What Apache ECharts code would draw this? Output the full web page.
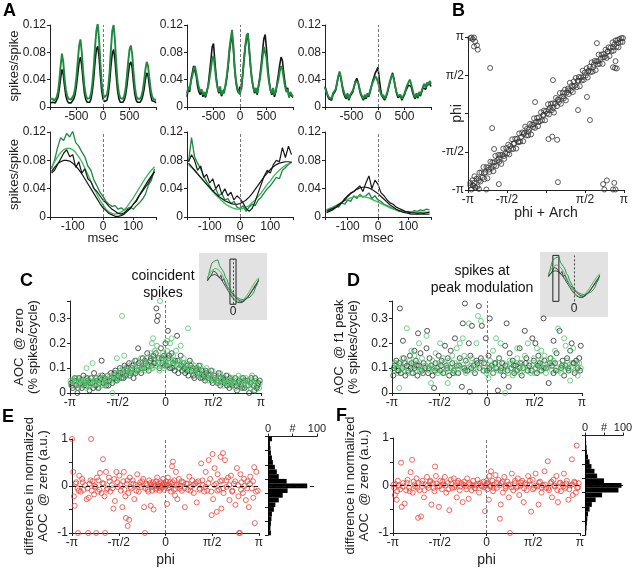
<!DOCTYPE html>
<html><head><meta charset="utf-8">
<script src="https://cdn.jsdelivr.net/npm/echarts@6/dist/echarts.min.js"></script>
<style>html,body{margin:0;padding:0;background:#fff}#c{width:640px;height:573px}</style>
</head><body><div id="c"></div>
<script>
// ---------- DATA ----------
const tTop=[-1000,-975,-950,-925,-900,-875,-850,-825,-800,-775,-750,-725,-700,-675,-650,-625,-600,-575,-550,-525,-500,-475,-450,-425,-400,-375,-350,-325,-300,-275,-250,-225,-200,-175,-150,-125,-100,-75,-50,-25,0,25,50,75,100,125,150,175,200,225,250,275,300,325,350,375,400,425,450,475,500,525,550,575,600,625,650,675,700,725,750,775,800,825,850,875,900,925,950,975,1000];
const topGreen1=[0.012,0.010,0.012,0.009,0.011,0.014,0.022,0.038,0.060,0.078,0.066,0.042,0.025,0.016,0.012,0.010,0.011,0.013,0.018,0.028,0.045,0.068,0.090,0.099,0.080,0.052,0.030,0.018,0.012,0.010,0.013,0.020,0.035,0.058,0.088,0.112,0.122,0.100,0.065,0.036,0.020,0.014,0.013,0.018,0.030,0.052,0.085,0.112,0.120,0.098,0.064,0.036,0.020,0.013,0.011,0.012,0.016,0.026,0.044,0.066,0.084,0.090,0.078,0.052,0.030,0.017,0.012,0.010,0.012,0.016,0.024,0.038,0.055,0.066,0.060,0.042,0.026,0.016,0.012,0.014,0.010];
const topBlack1=[0.006,0.005,0.007,0.005,0.006,0.008,0.014,0.026,0.042,0.055,0.048,0.030,0.016,0.009,0.006,0.005,0.006,0.008,0.012,0.019,0.032,0.049,0.066,0.073,0.060,0.038,0.020,0.011,0.007,0.005,0.007,0.012,0.024,0.042,0.066,0.084,0.089,0.074,0.047,0.024,0.012,0.008,0.007,0.010,0.019,0.036,0.060,0.078,0.084,0.070,0.045,0.024,0.012,0.007,0.006,0.007,0.010,0.017,0.030,0.047,0.062,0.066,0.057,0.036,0.019,0.010,0.007,0.005,0.007,0.010,0.016,0.026,0.040,0.050,0.046,0.031,0.017,0.009,0.007,0.008,0.006];
const topGreen2=[0.020,0.030,0.025,0.038,0.045,0.055,0.060,0.050,0.038,0.028,0.022,0.026,0.018,0.022,0.016,0.024,0.030,0.042,0.055,0.070,0.075,0.058,0.040,0.028,0.022,0.030,0.018,0.024,0.020,0.032,0.045,0.062,0.085,0.100,0.113,0.090,0.058,0.038,0.028,0.022,0.018,0.030,0.048,0.070,0.090,0.105,0.108,0.085,0.060,0.040,0.030,0.022,0.028,0.020,0.030,0.040,0.055,0.072,0.088,0.090,0.072,0.050,0.035,0.025,0.020,0.028,0.018,0.024,0.032,0.040,0.052,0.060,0.055,0.042,0.030,0.022,0.026,0.015,0.022,0.018,0.016];
const topBlack2=[0.015,0.028,0.022,0.040,0.050,0.060,0.058,0.045,0.030,0.022,0.018,0.024,0.015,0.020,0.014,0.022,0.032,0.050,0.068,0.088,0.093,0.068,0.045,0.030,0.020,0.026,0.016,0.020,0.018,0.030,0.042,0.058,0.080,0.095,0.105,0.085,0.055,0.035,0.025,0.020,0.030,0.025,0.045,0.068,0.088,0.100,0.104,0.082,0.058,0.040,0.028,0.020,0.026,0.018,0.032,0.045,0.062,0.082,0.100,0.106,0.085,0.058,0.038,0.025,0.018,0.025,0.015,0.022,0.035,0.048,0.062,0.073,0.068,0.050,0.035,0.024,0.028,0.014,0.020,0.016,0.014];
const topGreen3=[0.028,0.022,0.018,0.014,0.016,0.012,0.020,0.018,0.026,0.035,0.045,0.052,0.044,0.032,0.024,0.018,0.014,0.020,0.012,0.018,0.016,0.024,0.030,0.038,0.040,0.036,0.028,0.020,0.016,0.012,0.018,0.014,0.020,0.016,0.024,0.030,0.036,0.040,0.045,0.042,0.036,0.028,0.020,0.015,0.018,0.012,0.016,0.022,0.030,0.038,0.044,0.048,0.040,0.030,0.022,0.016,0.014,0.018,0.012,0.016,0.020,0.026,0.032,0.036,0.040,0.034,0.026,0.018,0.014,0.020,0.015,0.022,0.018,0.024,0.030,0.034,0.028,0.036,0.032,0.038,0.034];
const topBlack3=[0.030,0.024,0.016,0.012,0.014,0.010,0.018,0.016,0.024,0.034,0.044,0.050,0.042,0.030,0.020,0.015,0.012,0.018,0.010,0.016,0.015,0.022,0.030,0.038,0.042,0.036,0.026,0.018,0.014,0.010,0.015,0.012,0.018,0.015,0.022,0.030,0.038,0.044,0.050,0.052,0.058,0.040,0.026,0.016,0.015,0.010,0.014,0.020,0.028,0.036,0.044,0.050,0.042,0.030,0.020,0.014,0.012,0.016,0.010,0.014,0.018,0.024,0.028,0.032,0.034,0.030,0.022,0.016,0.012,0.018,0.013,0.020,0.016,0.022,0.028,0.030,0.026,0.032,0.030,0.034,0.030];

const tBot=[-170,-160,-150,-140,-130,-120,-110,-100,-90,-80,-70,-60,-50,-40,-30,-20,-10,0,10,20,30,40,50,60,70,80,90,100,110,120,130,140,150,160,170];
const botGreen1=[0.068,0.080,0.098,0.112,0.108,0.118,0.113,0.121,0.105,0.100,0.092,0.085,0.072,0.066,0.052,0.044,0.035,0.029,0.022,0.018,0.015,0.016,0.011,0.013,0.010,0.012,0.014,0.011,0.016,0.020,0.025,0.032,0.045,0.052,0.068];
const botGreenFit1=[0.070,0.078,0.085,0.091,0.095,0.097,0.097,0.095,0.091,0.085,0.078,0.069,0.060,0.050,0.041,0.032,0.024,0.017,0.011,0.007,0.005,0.004,0.005,0.007,0.010,0.015,0.021,0.027,0.034,0.041,0.048,0.055,0.061,0.066,0.071];
const botBlack1=[0.062,0.066,0.074,0.082,0.090,0.095,0.085,0.088,0.070,0.078,0.062,0.068,0.054,0.050,0.040,0.036,0.030,0.024,0.020,0.015,0.011,0.008,0.005,0.004,0.006,0.010,0.012,0.018,0.022,0.030,0.036,0.042,0.048,0.056,0.064];
const botBlackFit1=[0.064,0.070,0.075,0.078,0.080,0.080,0.079,0.076,0.072,0.067,0.061,0.054,0.047,0.040,0.033,0.026,0.019,0.013,0.009,0.005,0.003,0.001,0.001,0.002,0.004,0.008,0.012,0.018,0.024,0.031,0.038,0.045,0.052,0.058,0.064];
const botGreen2=[0.078,0.112,0.085,0.076,0.068,0.058,0.050,0.044,0.036,0.040,0.030,0.033,0.024,0.026,0.019,0.022,0.014,0.012,0.016,0.008,0.014,0.018,0.016,0.024,0.028,0.034,0.040,0.044,0.050,0.056,0.054,0.066,0.070,0.074,0.078];
const botGreenFit2=[0.074,0.070,0.066,0.061,0.056,0.051,0.046,0.041,0.036,0.031,0.027,0.023,0.019,0.016,0.014,0.012,0.011,0.011,0.012,0.014,0.016,0.020,0.024,0.029,0.034,0.040,0.046,0.051,0.057,0.062,0.066,0.070,0.073,0.075,0.076];
const botBlack2=[0.078,0.088,0.080,0.066,0.072,0.056,0.060,0.048,0.054,0.040,0.046,0.032,0.040,0.030,0.035,0.024,0.030,0.026,0.020,0.012,0.008,0.012,0.022,0.034,0.046,0.058,0.066,0.062,0.074,0.080,0.078,0.098,0.084,0.100,0.088];
const botBlackFit2=[0.076,0.071,0.066,0.061,0.056,0.051,0.046,0.042,0.037,0.033,0.029,0.026,0.023,0.021,0.019,0.018,0.018,0.019,0.021,0.024,0.028,0.033,0.039,0.045,0.051,0.057,0.062,0.067,0.071,0.074,0.076,0.077,0.078,0.078,0.077];
const botGreen3=[0.010,0.012,0.011,0.016,0.014,0.020,0.018,0.024,0.022,0.030,0.026,0.032,0.028,0.030,0.034,0.026,0.030,0.024,0.022,0.018,0.016,0.014,0.012,0.010,0.008,0.009,0.007,0.008,0.007,0.009,0.008,0.010,0.009,0.011,0.010];
const botGreenFit3=[0.010,0.012,0.014,0.016,0.018,0.021,0.023,0.025,0.027,0.028,0.029,0.029,0.029,0.028,0.027,0.025,0.023,0.021,0.019,0.017,0.015,0.013,0.011,0.010,0.009,0.008,0.007,0.007,0.007,0.007,0.007,0.007,0.007,0.007,0.007];
const botBlack3=[0.008,0.010,0.012,0.014,0.018,0.020,0.026,0.030,0.034,0.036,0.040,0.044,0.036,0.048,0.058,0.040,0.052,0.046,0.034,0.030,0.024,0.020,0.018,0.014,0.012,0.010,0.008,0.007,0.006,0.006,0.005,0.006,0.005,0.006,0.007];
const botBlackFit3=[0.006,0.008,0.010,0.013,0.016,0.020,0.024,0.029,0.033,0.036,0.039,0.041,0.042,0.042,0.041,0.039,0.036,0.033,0.029,0.025,0.021,0.017,0.014,0.011,0.009,0.007,0.006,0.005,0.004,0.004,0.004,0.004,0.004,0.004,0.004];

const scatterBBand=[[-3.05,-2.95],[-3.0,-3.12],[-2.96,-2.74],[-2.92,-2.97],[-2.88,-2.58],[-2.84,-3.04],[-2.8,-2.68],[-2.76,-3.0],[-2.72,-2.67],[-2.68,-2.43],[-2.64,-2.79],[-2.6,-2.42],[-2.56,-2.64],[-2.52,-2.2],[-2.48,-2.7],[-2.44,-2.42],[-2.4,-2.2],[-2.36,-2.66],[-2.32,-2.22],[-2.28,-2.4],[-2.24,-1.98],[-2.2,-2.24],[-2.16,-2.01],[-2.12,-2.37],[-2.08,-2.0],[-2.04,-1.74],[-2.0,-2.16],[-1.96,-1.92],[-1.92,-1.7],[-1.88,-1.98],[-1.84,-1.7],[-1.8,-2.07],[-1.76,-1.7],[-1.72,-1.44],[-1.68,-1.86],[-1.64,-1.64],[-1.6,-1.42],[-1.56,-1.64],[-1.52,-1.28],[-1.48,-1.68],[-1.44,-1.34],[-1.4,-1.45],[-1.36,-1.06],[-1.32,-1.46],[-1.28,-1.22],[-1.24,-1.04],[-1.2,-1.44],[-1.16,-1.04],[-1.12,-1.18],[-1.08,-0.82],[-1.04,-1.16],[-1.0,-0.96],[-0.96,-0.78],[-0.92,-1.14],[-0.88,-0.8],[-0.84,-0.54],[-0.8,-0.9],[-0.76,-0.62],[-0.72,-0.9],[-0.68,-0.66],[-0.64,-0.42],[-0.6,-0.86],[-0.56,-0.46],[-0.52,-0.56],[-0.48,-0.2],[-0.44,-0.59],[-0.4,-0.34],[-0.36,-0.18],[-0.32,-0.52],[-0.28,-0.16],[-0.24,-0.32],[-0.2,0.05],[-0.16,-0.28],[-0.12,-0.08],[-0.08,0.12],[-0.04,-0.28],[0.0,0.1],[0.04,0.0],[0.08,0.38],[0.12,-0.04],[0.16,0.24],[0.2,0.4],[0.24,0.14],[0.28,0.42],[0.32,0.04],[0.36,0.4],[0.4,0.64],[0.44,0.3],[0.48,0.58],[0.52,0.47],[0.56,0.84],[0.6,0.4],[0.64,0.7],[0.68,0.86],[0.72,0.62],[0.76,0.98],[0.8,0.54],[0.84,0.86],[0.88,1.02],[0.92,0.8],[0.96,1.26],[1.0,0.94],[1.04,1.14],[1.08,0.88],[1.12,1.32],[1.16,1.14],[1.2,1.46],[1.24,1.08],[1.28,1.34],[1.32,1.5],[1.36,1.12],[1.4,1.48],[1.44,1.36],[1.48,1.76],[1.52,1.38],[1.56,1.68],[1.6,1.56],[1.64,1.86],[1.68,1.48],[1.72,1.76],[1.76,1.92],[1.8,1.7],[1.84,2.1],[1.88,1.72],[1.92,2.0],[1.96,2.16],[2.0,1.78],[2.04,2.14],[2.08,2.02],[2.12,2.42],[2.16,2.04],[2.2,2.24],[2.24,2.42],[2.28,2.04],[2.32,2.44],[2.36,2.32],[2.4,2.62],[2.44,2.28],[2.48,2.54],[2.52,2.72],[2.56,2.36],[2.6,2.7],[2.64,2.56],[2.68,2.92],[2.72,2.58],[2.76,2.84],[2.8,3.0],[2.84,2.74],[2.88,3.02],[2.92,2.72],[2.96,3.06],[3.0,2.94],[3.04,3.1],[3.08,2.94],[3.1,3.1],
[-2.9,-2.85],[-2.7,-2.75],[-2.5,-2.45],[-2.3,-2.3],[-2.1,-2.15],[-1.9,-1.85],[-1.7,-1.75],[-1.5,-1.5],[-1.3,-1.25],[-1.1,-1.15],[-0.9,-0.85],[-0.7,-0.75],[-0.5,-0.45],[-0.3,-0.35],[-0.1,-0.05],[0.1,0.15],[0.3,0.25],[0.5,0.55],[0.7,0.7],[0.9,0.95],[1.1,1.1],[1.3,1.35],[1.5,1.5],[1.7,1.72],[1.9,1.9],[2.1,2.15],[2.3,2.3],[2.5,2.55],[2.7,2.72],[2.9,2.9]];
const scatterBOut=[[-3.05,3.1],[-3.0,3.12],[-2.95,3.05],[-2.9,3.12],[-2.85,2.95],[-2.78,2.8],[-2.75,2.62],[-2.9,2.75],[-2.25,1.87],[-0.44,0.47],[-2.17,-0.6],[0.28,1.37],[-2.09,-1.46],[0.48,-2.82],[1.77,-0.27],[1.65,0.68],[1.29,0.14],[0.1,-1.05],[0.25,-0.95],[0.45,-1.08],[2.05,2.89],[2.78,1.87],[2.85,1.85],[2.7,1.9],[2.8,2.15],[2.3,-2.9],[2.45,-2.75],[2.75,-2.85],[2.7,-3.12],[2.8,-3.12],[2.35,-3.12],[-3.05,-2.85],[-2.95,-2.95],[-2.85,-3.05],[-2.7,-3.1],[-2.4,-3.12],[-1.9,-2.9]];

const scatterCBlack=[[-3.1,0.04],[-3.05,0.02],[-3.0,0.05],[-2.95,0.03],[-2.9,0.0],[-2.85,0.06],[-2.8,0.04],[-2.75,0.02],[-2.7,0.07],[-2.65,0.04],[-2.6,0.03],[-2.55,0.05],[-2.5,0.01],[-2.45,0.06],[-2.4,0.04],[-2.35,0.08],[-2.3,0.03],[-2.25,0.05],[-2.2,0.02],[-2.15,0.06],[-2.1,0.13],[-2.05,0.04],[-2.0,0.06],[-1.95,0.03],[-1.9,0.07],[-1.85,0.05],[-1.8,0.08],[-1.75,0.04],[-1.7,0.06],[-1.65,0.09],[-1.6,0.05],[-1.55,0.07],[-1.5,0.1],[-1.45,0.06],[-1.4,0.08],[-1.35,0.11],[-1.3,0.07],[-1.25,0.09],[-1.2,0.12],[-1.15,0.08],[-1.1,0.1],[-1.05,0.06],[-1.0,0.13],[-0.95,0.09],[-0.9,0.18],[-0.85,0.11],[-0.8,0.08],[-0.75,0.14],[-0.7,0.1],[-0.65,0.12],[-0.6,0.16],[-0.55,0.09],[-0.5,0.13],[-0.45,0.11],[-0.4,0.15],[-0.35,0.12],[-0.3,0.34],[-0.28,0.29],[-0.25,0.31],[-0.22,0.14],[-0.2,0.1],[-0.15,0.18],[-0.1,0.12],[-0.05,0.15],[0.0,0.2],[0.05,0.11],[0.08,0.25],[0.1,0.14],[0.15,0.1],[0.2,0.16],[0.25,0.12],[0.3,0.09],[0.38,0.23],[0.4,0.13],[0.45,0.1],[0.5,0.15],[0.55,0.09],[0.6,0.12],[0.65,0.08],[0.7,0.11],[0.75,0.07],[0.8,0.13],[0.85,0.09],[0.9,0.1],[0.95,0.06],[1.0,0.09],[1.05,0.08],[1.1,0.11],[1.15,0.06],[1.2,0.09],[1.25,0.07],[1.3,0.05],[1.35,0.08],[1.4,0.06],[1.5,0.09],[1.55,0.04],[1.6,0.07],[1.7,0.05],[1.75,0.08],[1.8,0.03],[1.9,0.06],[1.95,0.04],[2.0,0.07],[2.1,0.02],[2.15,0.05],[2.2,0.03],[2.3,0.06],[2.35,0.01],[2.4,0.04],[2.5,0.03],[2.55,0.06],[2.6,0.02],[2.7,0.05],[2.75,0.0],[2.8,0.04],[2.9,0.03],[2.95,0.06],[3.0,0.02],[3.05,0.04],[3.1,0.05],
[-3.08,0.03],[-2.98,0.06],[-2.88,0.02],[-2.78,0.05],[-2.68,0.03],[-2.58,0.06],[-2.48,0.04],[-2.38,0.02],[-2.28,0.06],[-2.18,0.04],[-2.08,0.07],[-1.98,0.05],[-1.88,0.03],[-1.78,0.06],[-1.68,0.08],[-1.58,0.06],[-1.48,0.08],[-1.38,0.06],[-1.28,0.1],[-1.18,0.07],[-1.08,0.11],[-0.98,0.08],[-0.88,0.12],[-0.78,0.1],[-0.68,0.13],[-0.58,0.11],[-0.48,0.14],[-0.38,0.12],[-0.32,0.16],[-0.12,0.14],[-0.02,0.11],[0.12,0.15],[0.22,0.1],[0.32,0.13],[0.42,0.08],[0.52,0.11],[0.62,0.1],[0.72,0.09],[0.82,0.11],[0.92,0.07],[1.02,0.1],[1.12,0.08],[1.22,0.06],[1.32,0.09],[1.42,0.07],[1.52,0.05],[1.62,0.06],[1.72,0.04],[1.82,0.06],[1.92,0.05],[2.02,0.03],[2.12,0.06],[2.22,0.04],[2.32,0.03],[2.42,0.05],[2.52,0.02],[2.62,0.05],[2.72,0.03],[2.82,0.06],[2.92,0.01],[3.02,0.03]];
const scatterCGreen=[[-3.1,0.03],[-3.05,0.05],[-3.0,0.06],[-2.95,0.04],[-2.9,0.02],[-2.85,0.04],[-2.8,0.05],[-2.75,0.03],[-2.7,0.05],[-2.65,0.06],[-2.6,0.02],[-2.55,0.04],[-2.5,0.05],[-2.45,0.03],[-2.4,0.12],[-2.38,0.04],[-2.35,0.05],[-2.3,0.06],[-2.25,0.02],[-2.2,0.04],[-2.15,0.07],[-2.1,0.05],[-2.05,0.06],[-2.0,0.03],[-1.95,0.05],[-1.9,0.07],[-1.85,0.04],[-1.8,0.06],[-1.75,0.0],[-1.7,0.07],[-1.65,0.05],[-1.6,0.08],[-1.55,0.06],[-1.5,0.09],[-1.45,0.07],[-1.43,0.31],[-1.4,0.1],[-1.36,0.15],[-1.3,0.08],[-1.25,0.11],[-1.2,0.07],[-1.15,0.09],[-1.1,0.12],[-1.05,0.08],[-1.0,0.1],[-0.95,0.13],[-0.9,0.09],[-0.85,0.11],[-0.8,0.14],[-0.75,0.1],[-0.7,0.12],[-0.65,0.09],[-0.6,0.14],[-0.55,0.11],[-0.5,0.16],[-0.45,0.1],[-0.41,0.22],[-0.38,0.13],[-0.35,0.17],[-0.3,0.11],[-0.25,0.14],[-0.2,0.09],[-0.18,0.37],[-0.15,0.13],[-0.1,0.16],[-0.05,0.1],[0.0,0.13],[0.05,0.17],[0.1,0.12],[0.15,0.2],[0.2,0.22],[0.22,0.11],[0.25,0.15],[0.3,0.12],[0.35,0.17],[0.4,0.1],[0.45,0.13],[0.5,0.19],[0.55,0.11],[0.6,0.14],[0.65,0.09],[0.7,0.12],[0.74,0.26],[0.78,0.1],[0.85,0.12],[0.9,0.08],[0.95,0.11],[1.0,0.07],[1.05,0.1],[1.1,0.08],[1.15,0.11],[1.2,0.06],[1.25,0.09],[1.3,0.07],[1.35,0.1],[1.4,0.05],[1.45,0.08],[1.5,0.06],[1.55,0.09],[1.6,0.05],[1.65,0.07],[1.7,0.04],[1.75,0.06],[1.8,0.08],[1.85,0.05],[1.9,0.03],[1.95,0.06],[2.0,0.04],[2.05,0.07],[2.1,0.05],[2.15,0.03],[2.2,0.06],[2.25,0.04],[2.3,0.02],[2.35,0.05],[2.4,0.07],[2.45,0.03],[2.5,0.05],[2.55,0.02],[2.6,0.04],[2.65,0.06],[2.7,0.03],[2.75,0.05],[2.8,0.02],[2.85,0.07],[2.9,0.04],[2.95,0.01],[3.0,0.05],[3.05,0.03],[3.1,0.04],
[-3.12,0.05],[-3.02,0.03],[-2.92,0.06],[-2.82,0.03],[-2.72,0.04],[-2.62,0.05],[-2.52,0.03],[-2.42,0.06],[-2.32,0.04],[-2.22,0.05],[-2.12,0.03],[-2.02,0.06],[-1.92,0.04],[-1.82,0.07],[-1.72,0.05],[-1.62,0.06],[-1.52,0.08],[-1.42,0.06],[-1.32,0.09],[-1.22,0.08],[-1.12,0.1],[-1.02,0.09],[-0.92,0.11],[-0.82,0.09],[-0.72,0.11],[-0.62,0.1],[-0.52,0.12],[-0.42,0.1],[-0.33,0.14],[-0.28,0.19],[-0.23,0.12],[-0.13,0.11],[-0.08,0.14],[0.02,0.12],[0.07,0.15],[0.12,0.1],[0.18,0.14],[0.28,0.13],[0.38,0.11],[0.48,0.12],[0.58,0.1],[0.68,0.11],[0.8,0.09],[0.88,0.1],[0.98,0.08],[1.08,0.09],[1.18,0.07],[1.28,0.08],[1.38,0.06],[1.48,0.07],[1.58,0.06],[1.68,0.05],[1.78,0.07],[1.88,0.04],[1.98,0.05],[2.08,0.04],[2.18,0.05],[2.28,0.03],[2.38,0.04],[2.48,0.06],[2.58,0.03],[2.68,0.05],[2.78,0.04],[2.88,0.03],[2.98,0.05],[3.08,0.02],[-0.45,0.2],[0.05,0.21],[-1.6,0.14],[-2.6,0.1]];

const scatterDBlack=[[-3.1,0.07],[-3.05,0.11],[-3.0,0.13],[-2.95,0.09],[-2.9,0.12],[-2.88,0.34],[-2.85,0.08],[-2.8,0.1],[-2.78,0.21],[-2.75,0.14],[-2.7,0.07],[-2.65,0.11],[-2.6,0.09],[-2.55,0.15],[-2.5,0.12],[-2.45,0.08],[-2.4,0.1],[-2.35,0.13],[-2.3,0.07],[-2.28,0.24],[-2.25,0.11],[-2.2,0.16],[-2.15,0.09],[-2.1,0.12],[-2.05,0.1],[-1.98,0.25],[-1.95,0.08],[-1.9,0.14],[-1.85,0.11],[-1.8,0.07],[-1.75,0.02],[-1.7,0.12],[-1.65,0.1],[-1.6,0.15],[-1.55,0.09],[-1.5,0.13],[-1.45,0.08],[-1.39,0.19],[-1.35,0.11],[-1.3,0.14],[-1.25,0.07],[-1.2,0.1],[-1.15,0.12],[-1.1,0.09],[-1.06,0.22],[-1.0,0.11],[-0.95,0.08],[-0.9,0.14],[-0.83,0.025],[-0.8,0.28],[-0.75,0.1],[-0.73,0.36],[-0.7,0.13],[-0.65,0.09],[-0.57,0.005],[-0.55,0.15],[-0.5,0.27],[-0.45,0.11],[-0.4,0.08],[-0.35,0.13],[-0.27,0.35],[-0.25,0.1],[-0.2,0.14],[-0.17,0.27],[-0.1,0.12],[-0.04,0.22],[0.0,0.09],[0.05,0.15],[0.09,0.3],[0.15,0.11],[0.2,0.08],[0.25,0.12],[0.3,0.1],[0.36,0.01],[0.4,0.14],[0.45,0.09],[0.5,0.12],[0.55,0.07],[0.6,0.11],[0.65,0.28],[0.72,0.025],[0.75,0.16],[0.8,0.1],[0.85,0.13],[0.9,0.08],[0.95,0.11],[1.0,0.09],[1.08,0.18],[1.1,0.12],[1.15,0.07],[1.2,0.1],[1.25,0.25],[1.3,0.14],[1.35,0.09],[1.4,0.11],[1.5,0.22],[1.55,0.13],[1.6,0.1],[1.65,0.08],[1.7,0.15],[1.75,0.12],[1.8,0.09],[1.87,0.3],[1.9,0.13],[1.95,0.1],[2.04,0.04],[2.1,0.14],[2.15,0.11],[2.2,0.08],[2.25,0.12],[2.3,0.16],[2.4,0.25],[2.45,0.1],[2.5,0.13],[2.55,0.07],[2.6,0.11],[2.65,0.14],[2.7,0.09],[2.8,0.2],[2.85,0.12],[2.9,0.08],[2.95,0.13],[3.0,0.1],[3.05,0.14],[3.1,0.19],
[-3.08,0.1],[-2.92,0.09],[-2.72,0.12],[-2.52,0.1],[-2.32,0.11],[-2.12,0.08],[-1.92,0.1],[-1.72,0.09],[-1.52,0.11],[-1.32,0.1],[-1.12,0.08],[-0.92,0.11],[-0.72,0.09],[-0.52,0.1],[-0.32,0.12],[-0.12,0.09],[0.08,0.1],[0.28,0.12],[0.48,0.1],[0.68,0.09],[0.88,0.11],[1.08,0.1],[1.28,0.12],[1.48,0.09],[1.68,0.11],[1.88,0.1],[2.08,0.12],[2.28,0.09],[2.48,0.11],[2.68,0.1],[2.88,0.12],[3.08,0.09],[-2.0,0.18],[-1.2,0.17],[-0.6,0.2],[0.6,0.19],[1.6,0.2],[2.2,0.21],[2.75,0.17],[-2.4,0.17]];
const scatterDGreen=[[-3.1,0.09],[-3.05,0.12],[-3.0,0.1],[-2.95,0.08],[-2.9,0.02],[-2.85,0.11],[-2.8,0.14],[-2.75,0.09],[-2.7,0.12],[-2.65,0.26],[-2.6,0.1],[-2.55,0.13],[-2.5,0.08],[-2.45,0.11],[-2.4,0.15],[-2.35,0.09],[-2.3,0.12],[-2.25,0.2],[-2.2,0.1],[-2.15,0.14],[-2.1,0.08],[-2.05,0.11],[-2.0,0.23],[-1.95,0.12],[-1.9,0.09],[-1.85,0.04],[-1.8,0.13],[-1.75,0.1],[-1.7,0.16],[-1.65,0.09],[-1.6,0.12],[-1.55,0.2],[-1.5,0.1],[-1.45,0.14],[-1.4,0.08],[-1.35,0.11],[-1.3,0.04],[-1.25,0.13],[-1.2,0.1],[-1.15,0.15],[-1.1,0.09],[-1.05,0.12],[-1.0,0.08],[-0.95,0.11],[-0.9,0.2],[-0.85,0.13],[-0.8,0.1],[-0.75,0.15],[-0.7,0.08],[-0.65,0.12],[-0.6,0.28],[-0.55,0.11],[-0.5,0.14],[-0.45,0.09],[-0.4,0.12],[-0.35,0.2],[-0.3,0.31],[-0.25,0.11],[-0.2,0.29],[-0.15,0.13],[-0.1,0.09],[-0.05,0.12],[0.0,0.1],[0.05,0.06],[0.1,0.13],[0.15,0.1],[0.2,0.08],[0.25,0.12],[0.3,0.22],[0.35,0.1],[0.4,0.14],[0.45,0.2],[0.5,0.09],[0.55,0.12],[0.6,0.0],[0.65,0.11],[0.7,0.08],[0.75,0.13],[0.8,0.1],[0.85,0.07],[0.9,0.12],[0.95,0.09],[1.0,0.14],[1.05,0.11],[1.1,0.08],[1.15,0.12],[1.2,0.1],[1.25,0.15],[1.3,0.09],[1.35,0.2],[1.4,0.12],[1.45,0.08],[1.5,0.11],[1.55,0.14],[1.6,0.1],[1.65,0.18],[1.7,0.12],[1.75,0.09],[1.8,0.13],[1.85,0.1],[1.9,0.15],[1.95,0.08],[2.0,0.12],[2.05,0.11],[2.1,0.14],[2.15,0.09],[2.2,0.13],[2.25,0.17],[2.3,0.1],[2.35,0.26],[2.4,0.12],[2.45,0.08],[2.5,0.11],[2.55,0.22],[2.6,0.09],[2.65,0.13],[2.7,0.1],[2.75,0.05],[2.8,0.12],[2.85,0.18],[2.9,0.09],[2.95,0.11],[3.0,0.07],[3.05,0.12],[3.1,0.1],
[-3.0,0.12],[-2.82,0.1],[-2.62,0.08],[-2.42,0.12],[-2.22,0.09],[-2.02,0.11],[-1.82,0.1],[-1.62,0.08],[-1.42,0.12],[-1.22,0.09],[-1.02,0.11],[-0.82,0.1],[-0.62,0.09],[-0.42,0.11],[-0.22,0.1],[-0.02,0.08],[0.18,0.11],[0.38,0.09],[0.58,0.1],[0.78,0.12],[0.98,0.09],[1.18,0.11],[1.38,0.1],[1.58,0.08],[1.78,0.11],[1.98,0.1],[2.18,0.12],[2.38,0.09],[2.58,0.11],[2.78,0.1],[2.98,0.12],[-2.5,0.17],[-1.0,0.18],[0.2,0.17],[1.0,0.18],[1.8,0.17],[2.6,0.19],[-0.8,0.22]];

const scatterE=[[-3.14,1.0],[-3.1,0.3],[-3.08,-0.22],[-3.05,-0.42],[-3.0,0.08],[-2.95,-0.05],[-2.94,-1.0],[-2.9,0.22],[-2.85,-0.12],[-2.8,0.15],[-2.75,-0.08],[-2.7,0.02],[-2.65,-0.28],[-2.6,-1.0],[-2.58,-0.25],[-2.55,0.05],[-2.5,1.0],[-2.48,-0.1],[-2.45,0.1],[-2.4,-0.18],[-2.35,-0.02],[-2.33,-1.0],[-2.3,0.18],[-2.25,0.12],[-2.22,-0.08],[-2.2,0.28],[-2.15,-0.15],[-2.1,0.57],[-2.08,0.05],[-2.05,-0.22],[-2.03,-1.0],[-2.0,0.3],[-1.95,-0.05],[-1.9,0.18],[-1.85,-0.12],[-1.8,0.02],[-1.75,-0.48],[-1.72,0.15],[-1.7,-0.32],[-1.65,0.3],[-1.6,-0.02],[-1.55,0.22],[-1.5,-0.1],[-1.45,-0.45],[-1.42,0.1],[-1.4,0.3],[-1.35,-0.22],[-1.33,-0.68],[-1.3,0.05],[-1.27,-0.85],[-1.25,-0.15],[-1.22,-0.72],[-1.2,0.18],[-1.15,-0.05],[-1.1,0.12],[-1.05,-0.28],[-1.0,0.02],[-0.95,0.25],[-0.9,-0.12],[-0.85,0.08],[-0.8,-0.02],[-0.75,0.15],[-0.72,-0.45],[-0.69,-1.0],[-0.65,0.05],[-0.6,-0.08],[-0.55,0.12],[-0.5,-0.42],[-0.48,0.02],[-0.45,-0.1],[-0.42,0.08],[-0.4,-0.5],[-0.35,0.0],[-0.32,0.1],[-0.3,-0.05],[-0.28,0.18],[-0.25,-0.02],[-0.22,0.05],[-0.2,-0.1],[-0.18,0.0],[-0.15,0.08],[-0.12,-0.03],[-0.1,0.02],[-0.08,0.15],[-0.05,-0.08],[-0.03,0.03],[0.0,-0.02],[0.02,0.1],[0.05,-0.38],[0.08,0.18],[0.1,-0.05],[0.12,0.02],[0.15,0.08],[0.18,-0.12],[0.2,0.05],[0.22,0.42],[0.25,0.52],[0.28,-0.08],[0.3,0.12],[0.32,-0.2],[0.35,0.3],[0.38,0.02],[0.4,-0.28],[0.45,0.15],[0.48,-0.05],[0.5,0.0],[0.55,-0.1],[0.6,0.08],[0.65,-0.45],[0.7,0.05],[0.75,-0.08],[0.8,0.2],[0.85,-0.02],[0.9,0.12],[0.95,-0.15],[1.0,0.05],[1.05,-0.35],[1.1,0.1],[1.15,-0.05],[1.2,0.48],[1.25,0.02],[1.3,-0.12],[1.35,0.3],[1.4,-0.1],[1.45,0.55],[1.5,0.15],[1.55,-0.62],[1.58,0.68],[1.6,-0.28],[1.65,0.38],[1.7,0.05],[1.72,-0.55],[1.75,0.25],[1.8,-0.08],[1.85,0.62],[1.88,-0.48],[1.9,0.12],[1.93,0.7],[1.95,-0.15],[2.0,0.55],[2.05,-0.02],[2.1,0.18],[2.15,-0.3],[2.2,0.22],[2.25,-0.1],[2.3,0.05],[2.35,-0.4],[2.4,0.38],[2.45,-0.22],[2.47,-1.0],[2.5,-1.0],[2.52,0.25],[2.55,0.08],[2.6,-0.15],[2.65,0.0],[2.7,-0.3],[2.75,0.1],[2.8,-0.45],[2.85,0.2],[2.9,-0.05],[2.95,-0.25],[2.98,0.4],[3.0,-0.79],[3.05,0.3],[3.1,-0.1],
[-3.02,0.05],[-2.92,-0.1],[-2.78,0.08],[-2.62,-0.05],[-2.52,0.12],[-2.38,0.0],[-2.27,-0.12],[-2.12,0.06],[-1.98,-0.08],[-1.88,0.1],[-1.78,-0.05],[-1.62,0.08],[-1.52,0.02],[-1.38,-0.08],[-1.28,0.12],[-1.18,-0.02],[-1.08,0.05],[-0.98,-0.1],[-0.88,0.02],[-0.78,0.1],[-0.68,-0.05],[-0.62,0.02],[-0.58,-0.12],[-0.52,0.06],[-0.46,-0.02],[-0.38,0.04],[-0.33,-0.08],[-0.26,0.02],[-0.16,-0.05],[-0.06,0.06],[0.04,0.03],[0.14,-0.03],[0.24,0.08],[0.34,-0.06],[0.44,0.02],[0.54,0.1],[0.64,-0.05],[0.74,0.05],[0.84,-0.1],[0.94,0.02],[1.04,0.08],[1.14,-0.08],[1.24,0.12],[1.34,-0.02],[1.44,0.06],[1.54,-0.12],[1.64,0.02],[1.74,-0.1],[1.84,0.1],[1.94,-0.05],[2.04,0.12],[2.14,0.02],[2.24,-0.12],[2.34,0.1],[2.44,0.02],[2.54,-0.08],[2.64,0.15],[2.74,-0.05],[2.84,0.05],[2.94,0.1],[3.04,-0.12]];
const scatterF=[[-3.1,-0.05],[-3.08,-0.2],[-3.05,0.03],[-3.02,-0.3],[-3.0,-0.12],[-2.95,0.0],[-2.9,-0.08],[-2.87,0.48],[-2.85,-0.45],[-2.8,0.05],[-2.75,-0.38],[-2.7,-0.1],[-2.65,0.12],[-2.6,-0.05],[-2.55,0.28],[-2.5,0.54],[-2.48,-0.15],[-2.45,0.08],[-2.4,-0.02],[-2.35,0.15],[-2.3,-0.68],[-2.28,0.05],[-2.25,-0.1],[-2.2,-0.65],[-2.15,0.1],[-2.1,-0.25],[-2.05,0.02],[-2.0,0.18],[-1.95,-0.05],[-1.9,0.08],[-1.85,-0.4],[-1.8,0.05],[-1.75,-0.12],[-1.73,0.4],[-1.7,0.2],[-1.65,-0.02],[-1.6,-0.45],[-1.55,0.1],[-1.5,-0.08],[-1.45,0.02],[-1.4,0.18],[-1.35,-0.15],[-1.3,0.05],[-1.25,-0.52],[-1.2,0.12],[-1.15,-0.05],[-1.1,0.15],[-1.05,0.0],[-1.0,-0.25],[-0.95,0.1],[-0.9,-0.1],[-0.85,0.05],[-0.8,-0.35],[-0.75,0.08],[-0.7,-0.02],[-0.65,0.15],[-0.6,-0.28],[-0.55,0.02],[-0.5,-0.1],[-0.45,0.1],[-0.4,-0.05],[-0.35,0.0],[-0.3,0.12],[-0.25,-0.15],[-0.2,0.05],[-0.15,-0.02],[-0.1,0.08],[-0.05,-0.54],[-0.03,0.0],[0.0,0.1],[0.03,-0.08],[0.05,0.05],[0.08,-0.3],[0.1,0.2],[0.12,-0.02],[0.15,0.3],[0.2,0.1],[0.22,-0.12],[0.25,0.02],[0.3,0.22],[0.35,-0.05],[0.4,0.12],[0.45,-0.7],[0.48,-0.4],[0.5,0.05],[0.55,-0.15],[0.6,0.18],[0.65,-0.02],[0.7,0.08],[0.75,-0.25],[0.79,-1.0],[0.8,0.02],[0.85,0.25],[0.9,-0.1],[0.95,0.05],[1.0,-0.05],[1.05,0.15],[1.1,-0.2],[1.15,0.0],[1.2,0.1],[1.25,-0.35],[1.3,0.05],[1.35,-0.1],[1.4,0.2],[1.45,0.02],[1.5,-0.55],[1.55,0.12],[1.6,-0.05],[1.65,0.25],[1.7,-0.02],[1.75,-0.4],[1.8,0.08],[1.85,-0.15],[1.9,0.0],[1.95,0.3],[2.0,-0.05],[2.06,0.51],[2.1,-0.1],[2.15,0.05],[2.2,-0.25],[2.25,0.12],[2.3,-0.02],[2.35,0.2],[2.4,-0.35],[2.45,0.05],[2.5,-0.12],[2.55,0.02],[2.6,0.25],[2.65,-0.05],[2.7,0.1],[2.75,-0.3],[2.8,0.0],[2.87,0.55],[2.9,-0.2],[2.95,0.08],[3.0,-0.15],[3.03,0.84],[3.05,-0.05],[3.1,0.05],
[-3.12,0.02],[-2.98,0.1],[-2.82,-0.02],[-2.68,0.06],[-2.58,-0.12],[-2.42,0.02],[-2.32,-0.05],[-2.18,0.04],[-2.08,-0.1],[-1.98,0.0],[-1.88,0.1],[-1.78,-0.05],[-1.68,0.04],[-1.58,-0.02],[-1.48,0.08],[-1.38,0.0],[-1.28,-0.08],[-1.18,0.04],[-1.08,-0.04],[-0.98,0.06],[-0.88,-0.02],[-0.78,0.02],[-0.68,-0.08],[-0.58,0.05],[-0.48,0.0],[-0.38,-0.06],[-0.28,0.04],[-0.18,0.0],[-0.08,-0.04],[0.02,0.04],[0.14,0.0],[0.24,-0.05],[0.34,0.06],[0.44,0.0],[0.54,0.08],[0.64,-0.06],[0.74,0.02],[0.84,-0.04],[0.96,0.1],[1.06,-0.02],[1.16,0.06],[1.26,-0.06],[1.36,0.02],[1.46,0.1],[1.56,-0.08],[1.66,0.0],[1.76,0.06],[1.86,-0.04],[1.96,0.02],[2.08,-0.06],[2.18,0.08],[2.28,0.0],[2.38,-0.1],[2.48,0.06],[2.58,-0.02],[2.68,0.04],[2.78,-0.08],[2.88,0.02],[2.98,0.06],[3.08,-0.04]];

const histBins=['-1.0','-0.9','-0.8','-0.7','-0.6','-0.5','-0.4','-0.3','-0.2','-0.1','0.0','0.1','0.2','0.3','0.4','0.5','0.6','0.7','0.8','0.9','1.0'];
const histE=[6,5,6,7,8,12,15,22,30,40,80,38,22,18,14,10,8,6,5,4,8];
const histF=[3,4,5,6,8,12,18,28,45,88,96,50,32,25,17,12,8,5,4,3,2];

const phiTicks=['-π','-π/2','0','π/2','π'];
const phiTicksB=['-π','-π/2','','π/2','π'];
const insetRectC=[-20,20,-0.003,0.123];
const insetRectD=[-140,-100,-0.01,0.125];

// ---------- BUILD ----------
const FONT='"Liberation Sans", Arial, Helvetica, sans-serif';
const BLACK='#161616', DGREEN='#1d8a3f', LGREEN='#3cb85a', SGREEN='#4fc46c', RED='#e8443a';
function merge(a,b){const o=Object.assign({},a);for(const k in b){const v=b[k];if(v&&typeof v==='object'&&!Array.isArray(v)&&o[k]&&typeof o[k]==='object'&&!Array.isArray(o[k]))o[k]=merge(o[k],v);else o[k]=v;}return o;}
const baseAxis={type:'value',nameMoveOverlap:false,axisLine:{show:true,onZero:false,lineStyle:{color:'#222',width:1}},axisTick:{show:true,length:3,inside:false,lineStyle:{color:'#222',width:1}},axisLabel:{color:'#222',fontSize:12,fontFamily:FONT,margin:4},splitLine:{show:false},nameTextStyle:{color:'#222',fontFamily:FONT,fontSize:13}};
const grids=[],xAxes=[],yAxes=[],series=[];
function addGrid(box,xa,ya){const i=grids.length;grids.push(merge({containLabel:false,outerBoundsMode:'none'},box));xAxes.push(merge(merge(baseAxis,xa),{gridIndex:i}));yAxes.push(merge(merge(baseAxis,ya),{gridIndex:i}));return i;}
function pairs(xs,ys){return xs.map((x,k)=>[x,ys[k]]);}
function line(gi,xs,ys,color,w,extra){series.push(merge({type:'line',xAxisIndex:gi,yAxisIndex:gi,data:pairs(xs,ys),symbol:'none',showSymbol:false,lineStyle:{color:color,width:w},silent:true},extra||{}));}
function scat(gi,pts,color,size){series.push({type:'scatter',xAxisIndex:gi,yAxisIndex:gi,data:pts,symbol:'circle',symbolSize:size,itemStyle:{color:'rgba(0,0,0,0)',borderColor:color,borderWidth:1},silent:true});}
function zeroLine(items,color){return {markLine:{silent:true,symbol:['none','none'],label:{show:false},lineStyle:{color:color||'#777',type:[3,2],width:1},data:items}};}
const fmtA=v=>v===0?'0':v.toFixed(2);
const fmtPhi=v=>phiTicks[Math.round((v+Math.PI)/(Math.PI/2))]||'';
const fmtPhiB=v=>{const s=phiTicksB[Math.round((v+Math.PI)/(Math.PI/2))];return s===undefined?'':s;};

// Panel A top
const topX={min:-1000,max:1000,interval:500,axisLabel:{formatter:v=>Math.abs(v)===1000?'':String(v)}};
const topY={min:0,max:0.12,interval:0.04,axisLabel:{formatter:fmtA}};
const aLeft=[50,187,325];
const topG=[[topGreen1,topBlack1],[topGreen2,topBlack2],[topGreen3,topBlack3]];
aLeft.forEach((l,k)=>{
  const gi=addGrid({left:l,top:25,width:106,height:82},topX,k===0?merge(topY,{name:'spikes/spike',nameLocation:'middle',nameGap:29}):topY);
  line(gi,tTop,topG[k][1],BLACK,1.6,zeroLine([{xAxis:0}]));
  line(gi,tTop,topG[k][0],DGREEN,1.9);
});
// Panel A bottom
const botX={min:-175,max:175,splitNumber:3,name:'msec',nameLocation:'middle',nameGap:15,axisLabel:{formatter:v=>(Math.abs(v)%100===0)?String(v):''}};
const botSets=[[botBlack1,botBlackFit1,botGreen1,botGreenFit1],[botBlack2,botBlackFit2,botGreen2,botGreenFit2],[botBlack3,botBlackFit3,botGreen3,botGreenFit3]];
aLeft.forEach((l,k)=>{
  const gi=addGrid({left:l,top:132,width:106,height:85},botX,k===0?merge(topY,{name:'spikes/spike',nameLocation:'middle',nameGap:29}):topY);
  const s=botSets[k];
  line(gi,tBot,s[2],DGREEN,1.3,zeroLine([{xAxis:0}]));
  line(gi,tBot,s[3],LGREEN,1.3);
  line(gi,tBot,s[0],BLACK,1.2);
  line(gi,tBot,s[1],BLACK,1.2);
});
// Panel B
const gB=addGrid({left:468,top:37,width:156,height:153},
  {min:-Math.PI,max:Math.PI,interval:Math.PI/2,name:'phi + Arch',nameLocation:'middle',nameGap:16,nameTextStyle:{fontSize:14},axisLabel:{formatter:fmtPhiB}},
  {min:-Math.PI,max:Math.PI,interval:Math.PI/2,name:'phi',nameLocation:'middle',nameGap:4,nameTextStyle:{fontSize:14},axisLabel:{formatter:fmtPhiB}});
scat(gB,scatterBBand.concat(scatterBOut),'#333',5);
// Panel C / D
const phiX={min:-Math.PI,max:Math.PI,interval:Math.PI/2,axisLabel:{formatter:fmtPhi}};
const aocY={min:0,max:0.37,interval:0.1,axisLabel:{fontSize:12,formatter:v=>{const r=Math.round(v*10);return Math.abs(v*10-r)<1e-6?(r===0?'0':(r/10).toFixed(1)):'';}}};
const gC=addGrid({left:70,top:301,width:191,height:92},phiX,merge(aocY,{name:'AOC  @ zero\n(% spikes/cycle)',nameLocation:'middle',nameGap:30,nameTextStyle:{lineHeight:14}}));
series.push(merge({type:'line',xAxisIndex:gC,yAxisIndex:gC,data:[],silent:true},zeroLine([{xAxis:0}])));
scat(gC,scatterCBlack,'#2a2a2a',5);
scat(gC,scatterCGreen,SGREEN,5);
const gD=addGrid({left:392,top:301,width:190,height:92},phiX,merge(aocY,{name:'AOC  @ f1 peak\n(% spikes/cycle)',nameLocation:'middle',nameGap:32,nameTextStyle:{lineHeight:14}}));
series.push(merge({type:'line',xAxisIndex:gD,yAxisIndex:gD,data:[],silent:true},zeroLine([{xAxis:0}])));
scat(gD,scatterDBlack,'#2a2a2a',5);
scat(gD,scatterDGreen,SGREEN,5);
// Insets
function inset(box,rect){
  const gi=addGrid(merge(box,{show:true,backgroundColor:'#e2e2e2',borderWidth:0}),
    {min:-225,max:225,interval:225,axisLine:{show:false},axisTick:{show:false},axisLabel:{inside:true,margin:2,fontSize:12,formatter:v=>v===0?'0':''}},
    {show:false,min:box.ymin,max:box.ymax});
  line(gi,tBot,botBlack1,'#333',0.9);
  line(gi,tBot,botBlackFit1,'#333',0.9);
  line(gi,tBot,botGreen1,DGREEN,0.9);
  line(gi,tBot,botGreenFit1,LGREEN,0.9,{
    markArea:{silent:true,itemStyle:{color:'rgba(0,0,0,0)',borderColor:'#222',borderWidth:1},data:[[{xAxis:rect[0],yAxis:rect[2]},{xAxis:rect[1],yAxis:rect[3]}]]},
    markLine:{silent:true,symbol:['none','none'],label:{show:false},lineStyle:{color:'#444',type:[2,2],width:1},data:[[{xAxis:0,yAxis:rect[2]},{xAxis:0,yAxis:rect[3]}]]}
  });
}
inset({left:199,top:253,width:68,height:67,ymin:-0.047,ymax:0.14},insetRectC);
inset({left:540,top:252,width:68,height:65,ymin:-0.056,ymax:0.135},insetRectD);
// Panel E / F
const diffY={min:-1,max:1,interval:0.5,axisLabel:{formatter:v=>Number.isInteger(v)?String(v):''}};
const phiXn=merge(phiX,{name:'phi',nameLocation:'middle',nameGap:20,nameTextStyle:{fontSize:14}});
const gE=addGrid({left:72,top:439,width:187,height:94},phiXn,merge(diffY,{name:'difference in normalized\nAOC  @ zero (a.u.)',nameLocation:'middle',nameGap:22,nameTextStyle:{lineHeight:14}}));
series.push(merge({type:'line',xAxisIndex:gE,yAxisIndex:gE,data:[],silent:true},zeroLine([{xAxis:0},{yAxis:0,lineStyle:{color:'#111',type:[4,3]}}])));
scat(gE,scatterE,RED,5);
const gF=addGrid({left:393,top:438,width:187,height:95},phiXn,merge(diffY,{name:'difference in normalized\nAOC  @ zero (a.u.)',nameLocation:'middle',nameGap:22,nameTextStyle:{lineHeight:14}}));
series.push(merge({type:'line',xAxisIndex:gF,yAxisIndex:gF,data:[],silent:true},zeroLine([{xAxis:0},{yAxis:0,lineStyle:{color:'#111',type:[4,3]}}])));
scat(gF,scatterF,RED,5);
// Histograms
function hist(box,counts){
  const gi=addGrid(box,
    {position:'top',min:0,max:100,interval:50,axisLabel:{fontSize:11,margin:2,formatter:v=>v===50?'#':String(v)}},
    {type:'category',data:histBins,axisLabel:{show:false},axisTick:{show:true,interval:2,length:3},boundaryGap:true});
  series.push({type:'bar',xAxisIndex:gi,yAxisIndex:gi,data:counts,barWidth:'100%',itemStyle:{color:'#000'},silent:true,
    markLine:{silent:true,symbol:['none','none'],label:{show:false},lineStyle:{color:'#111',type:[4,3],width:1},data:[{yAxis:10}]}});
}
hist({left:268,top:436.6,width:49,height:98.7},histE);
hist({left:585,top:435.6,width:38,height:99.75},histF);

// Panel letters and annotations (x/y = top-left of text)
const letters=[['A',3,2],['B',452,2],['C',20,272],['D',347,272],['E',2,408],['F',336,407]];
const graphic=letters.map(([t,x,y])=>({type:'text',x:x,y:y,silent:true,style:{text:t,align:'left',verticalAlign:'top',textAlign:'left',textVerticalAlign:'top',font:'bold 18px '+FONT,fill:'#000'}}));
[['coincident',163,276],['spikes',163,293],['spikes at',482,271],['peak modulation',482,288]].forEach(([t,x,y])=>{
  graphic.push({type:'text',x:x,y:y,silent:true,style:{text:t,align:'center',verticalAlign:'middle',textAlign:'center',textVerticalAlign:'middle',font:'14px '+FONT,fill:'#111'}});
});

const chart=echarts.init(document.getElementById('c'),null,{renderer:'canvas'});
chart.setOption({animation:false,backgroundColor:'#fff',textStyle:{fontFamily:FONT},grid:grids,xAxis:xAxes,yAxis:yAxes,series:series,graphic:graphic});
</script></body></html>
